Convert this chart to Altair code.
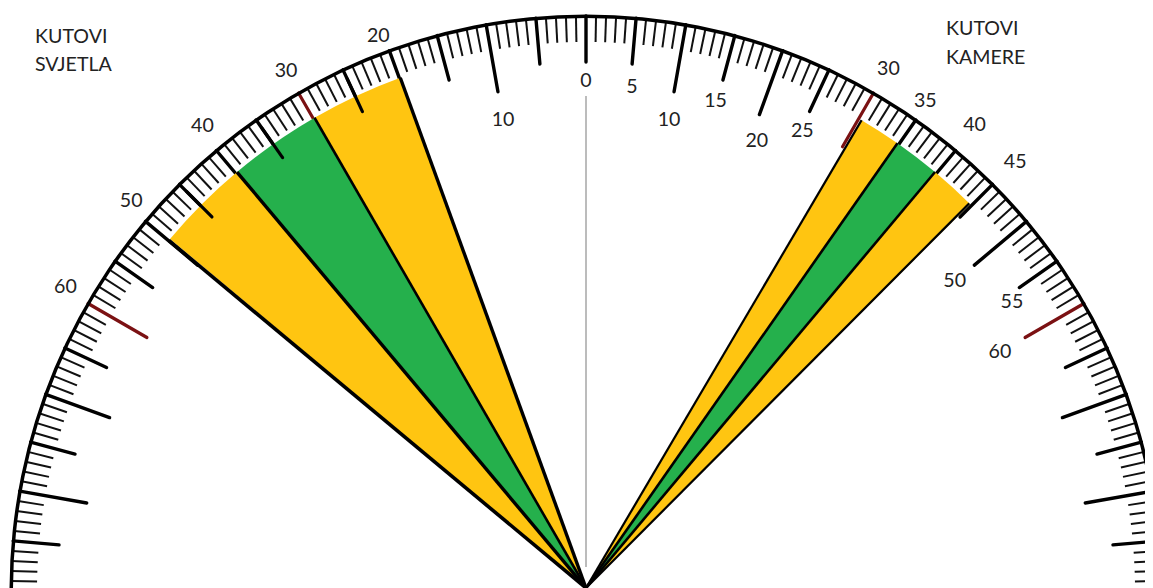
import math
import altair as alt
import pandas as pd

# --- values (degrees; negative = light side, positive = camera side)
minor_deg = [d for d in range(-89, 90) if d % 5 != 0]
mid_deg = [-85, -75, -65, -55, -45, -35, -25, -15, -5, 5, 15, 25, 35, 45, 55, 65, 75, 85]
long_deg = [-80, -70, -50, -40, -20, -10, 10, 20, 40, 50, 70, 80]
red_deg = [-60, -30, 30, 60]
red_len = [68, 62, 62, 68]
top_deg = [-45, -35, -25]   # these stay visible over the coloured wedges

wedge_start = [-30, -40, -50, 30.5, 35, 40]
wedge_end = [-20, -30, -40, 35, 40, 45]
wedge_kind = ["svjetlo", "sjena", "svjetlo", "svjetlo", "sjena", "svjetlo"]

edge_deg = [-20, -30, -40, -50.2, 30.5, 35, 40, 44.9]
edge_weight = [3.4, 2.6, 3.4, 3.6, 2.2, 2.6, 2.6, 2.2]

label_deg = [-10, -20.5, -30, -39.5, -49.4, -59.7, 0, 5.2, 10, 14.8, 20.8, 25.2, 30.1, 34.7, 39.8, 45, 49.9, 55.8, 60]
label_rad = [478, 593, 600, 603, 599, 603, 510, 506, 478, 507, 481, 508, 603, 596, 607, 607, 482, 515, 478]
label_txt = ["10", "20", "30", "40", "50", "60", "0", "5", "10", "15", "20", "25", "30", "35", "40", "45", "50", "55", "60"]

title_txt = ["KUTOVI", "SVJETLA", "KUTOVI", "KAMERE"]
title_x = [-551, -551, 360, 360]
title_y = [554, 526, 562, 533]

# --- layout
W, H = 1137, 580
CX, CY = 578, 583
APEX = 3
R_OUT = 575
R_WEDGE = 543
xs = alt.Scale(domain=[-CX, W - CX], nice=False, zero=False)
ys = alt.Scale(domain=[CY - H, CY], nice=False, zero=False)
ths = alt.Scale(domain=[-180, 180], range=[-math.pi, math.pi])
rs = alt.Scale(type="linear", domain=[0, 600], range=[0, 600])


def tick_layer(rows, **mark):
    df = pd.DataFrame(rows, columns=["a", "r0", "r1"])
    return (
        alt.Chart(df)
        .transform_calculate(
            x0="datum.r0*sin(datum.a*PI/180)",
            y0="datum.r0*cos(datum.a*PI/180)",
            x1="datum.r1*sin(datum.a*PI/180)",
            y1="datum.r1*cos(datum.a*PI/180)",
        )
        .mark_rule(clip=True, **mark)
        .encode(
            x=alt.X("x0:Q", scale=xs, axis=None),
            y=alt.Y("y0:Q", scale=ys, axis=None),
            x2="x1:Q",
            y2="y1:Q",
        )
    )


minor = tick_layer([(d, R_OUT, R_OUT - 26) for d in minor_deg], color="#111", strokeWidth=2)
mid = tick_layer([(d, R_OUT, R_OUT - 46) for d in mid_deg + [0]], color="#000", strokeWidth=3.4, strokeCap="round")
longs = tick_layer([(d, R_OUT, R_OUT - 68) for d in long_deg], color="#000", strokeWidth=3.4, strokeCap="round")
reds = tick_layer([(d, R_OUT, R_OUT - n) for d, n in zip(red_deg, red_len)], color="#7b1113", strokeWidth=3.2, strokeCap="round")
tops = tick_layer(
    [(d, R_OUT - 10, R_OUT - 46) for d in top_deg], color="#000", strokeWidth=3.2, strokeCap="round"
)

rim = (
    alt.Chart(pd.DataFrame({"a0": [-89.7], "a1": [89.7], "r0": [R_OUT - 2], "r1": [R_OUT + 1.5]}))
    .mark_arc(color="#000", clip=True)
    .encode(
        theta=alt.Theta("a0:Q", scale=ths, stack=False),
        theta2="a1:Q",
        radius=alt.Radius("r1:Q", scale=rs),
        radius2="r0:Q",
        x=alt.value(CX),
        y=alt.value(CY),
    )
)

wedges = (
    alt.Chart(pd.DataFrame({"a0": wedge_start, "a1": wedge_end, "kind": wedge_kind, "r1": R_WEDGE, "r0": 0}))
    .mark_arc(clip=True)
    .encode(
        theta=alt.Theta("a0:Q", scale=ths, stack=False),
        theta2="a1:Q",
        radius=alt.Radius("r1:Q", scale=rs),
        radius2="r0:Q",
        color=alt.Color("kind:N", scale=alt.Scale(domain=["svjetlo", "sjena"], range=["#FFC511", "#25B04C"]), legend=None),
        x=alt.value(CX),
        y=alt.value(CY - APEX),
    )
)

edges = (
    alt.Chart(pd.DataFrame({"a": edge_deg, "w": edge_weight, "r": R_WEDGE}))
    .transform_calculate(
        x0="0",
        y0=f"{APEX}",
        x1="datum.r*sin(datum.a*PI/180)",
        y1=f"{APEX}+datum.r*cos(datum.a*PI/180)",
    )
    .mark_rule(color="#000", clip=True)
    .encode(
        x=alt.X("x0:Q", scale=xs, axis=None),
        y=alt.Y("y0:Q", scale=ys, axis=None),
        x2="x1:Q",
        y2="y1:Q",
        strokeWidth=alt.StrokeWidth("w:Q", scale=None),
    )
)

axis_line = tick_layer([(0, 495, 24)], color="#a0a0a0", strokeWidth=1.4)

labels = (
    alt.Chart(pd.DataFrame({"a": label_deg, "r": label_rad, "t": label_txt}))
    .transform_calculate(px="datum.r*sin(datum.a*PI/180)", py="datum.r*cos(datum.a*PI/180)")
    .mark_text(font="Lato", fontSize=19.6, color="#222", align="center", baseline="middle", clip=True)
    .encode(x=alt.X("px:Q", scale=xs, axis=None), y=alt.Y("py:Q", scale=ys, axis=None), text="t:N")
)

titles = (
    alt.Chart(pd.DataFrame({"t": title_txt, "tx": title_x, "ty": title_y}))
    .mark_text(font="Lato", fontSize=19.6, color="#222", align="left", baseline="middle", clip=True)
    .encode(x=alt.X("tx:Q", scale=xs, axis=None), y=alt.Y("ty:Q", scale=ys, axis=None), text="t:N")
)

chart = (
    alt.layer(minor, mid, longs, reds, wedges, edges, tops, axis_line, rim, labels, titles)
    .properties(width=W, height=H, padding=0, background="white", autosize=alt.AutoSizeParams(type="none"))
    .configure_view(stroke=None)
)
chart.save("out.html", embed_options={"renderer": "svg", "actions": False})
